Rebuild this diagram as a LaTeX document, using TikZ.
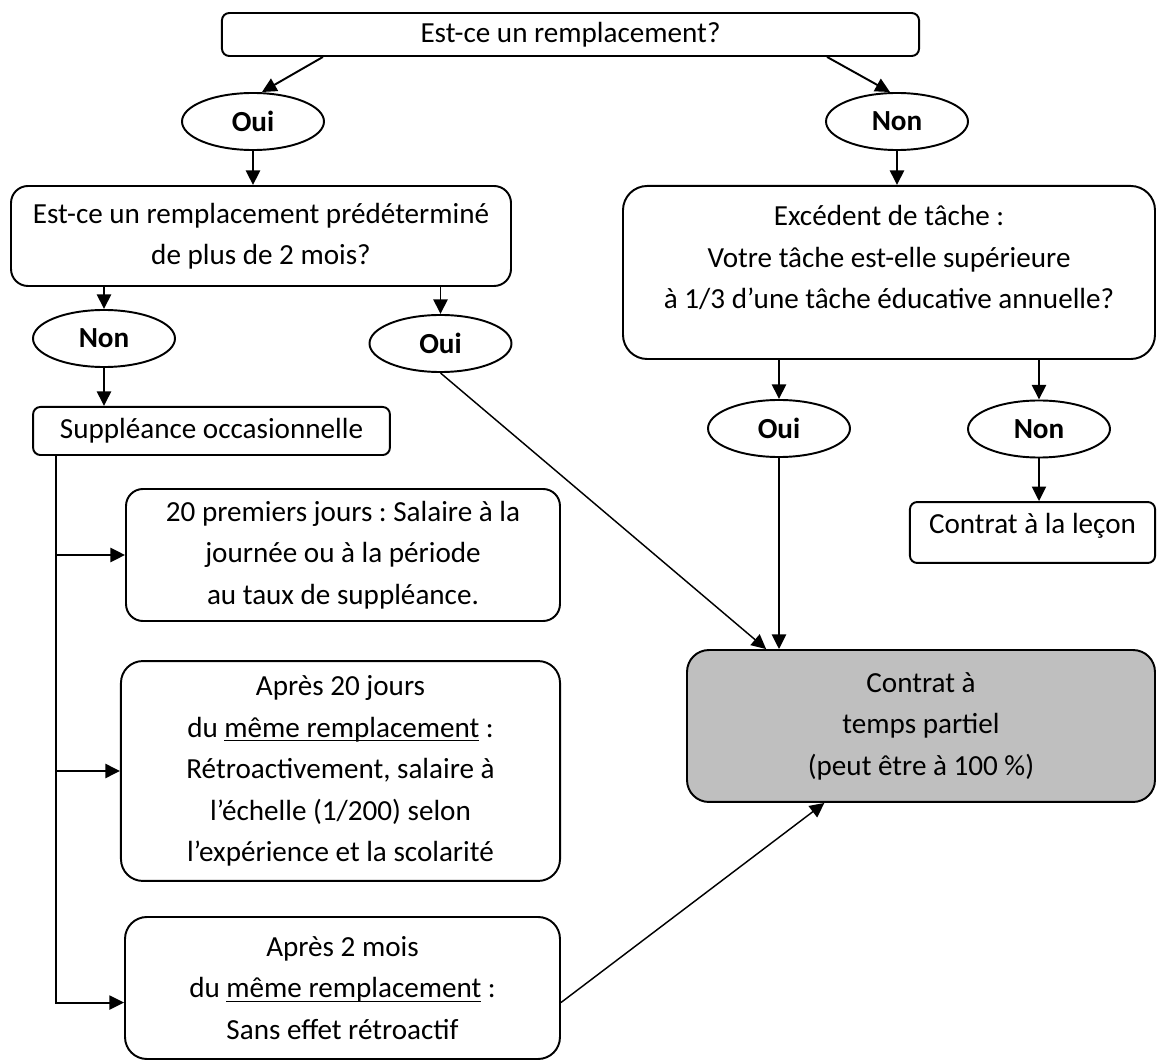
\documentclass[tikz,border=0pt]{standalone}
\usepackage{fontspec}
\setmainfont{Carlito}
\frenchspacing
\usetikzlibrary{shapes.geometric,arrows.meta}
\tikzset{
	box/.style    = {draw, rectangle, rounded corners=7pt, align=center,
		inner sep=0pt},
	result/.style = {box, fill=black!25}, % final contract
	answer/.style = {draw, ellipse, inner sep=0pt, minimum width=58.5pt,
		minimum height=23.5pt, font=\fontsize{12pt}{17.1pt}\selectfont\bfseries} % Oui / Non
}
\newcommand{\souligne}[1]{\begingroup\setbox0\hbox{#1}\rlap{\rule[-1.6pt]{\wd0}{0.5pt}}\box0\endgroup}

\begin{document}
\begin{tikzpicture}[auto, line width=0.8pt, >={Triangle[length=6pt,width=5.8pt]},
	x=0.412pt, y=-0.412pt, font=\fontsize{12pt}{17.1pt}\selectfont]
	\useasboundingbox (0,0) rectangle (1157,1061);
	\draw
	node at (570.5,34.5) [box, rounded corners=3pt, minimum width=287.2pt, minimum height=17.7pt] (q1) {Est-ce un remplacement?}
	node at (253,121.5) [answer] (oui1) {Oui}
	node at (897,121.5) [answer] (non1) {Non}
	node at (261,236) [box, minimum width=206pt, minimum height=41.2pt] (q2) {Est-ce un remplacement prédéterminé\\ de plus de 2 mois?}
	node at (889,272.5) [box, rounded corners=10pt, minimum width=219.2pt, minimum height=71.3pt] (exc) {Excédent de tâche :\\ Votre tâche est-elle supérieure\\ à 1/3 d’une tâche éducative annuelle?\\[-4.3pt] \mbox{}}
	node at (104,338.5) [answer] (non2) {Non}
	node at (440.5,343.5) [answer] (oui2) {Oui}
	node at (211.5,431) [box, rounded corners=3pt, minimum width=147pt, minimum height=19.8pt] (supp) {Suppléance occasionnelle}
	node at (779,428.5) [answer] (oui3) {Oui}
	node at (1039,429) [answer] (non3) {Non}
	node at (1032.5,532.5) [box, rounded corners=3pt, minimum width=101pt, minimum height=25.1pt] (lecon) {Contrat à la leçon\\[-9.3pt] \mbox{}}
	node at (343,555) [box, minimum width=178.8pt, minimum height=54.4pt] (first) {20 premiers jours : Salaire à la\\ journée ou à la période\\ au taux de suppléance.}
	node at (340.5,771) [box, rounded corners=9pt, minimum width=180.9pt, minimum height=90.6pt] (after20) {Après 20 jours\\ du \souligne{même remplacement} :\\ Rétroactivement, salaire à\\ l’échelle (1/200) selon\\ l’expérience et la scolarité}
	node at (342.5,988) [box, rounded corners=9pt, minimum width=179.2pt, minimum height=58.5pt] (after2m) {Après 2 mois\\ du \souligne{même remplacement} :\\ Sans effet rétroactif}
	node at (921,726) [result, rounded corners=9pt, minimum width=192.8pt, minimum height=62.6pt] (partiel) {Contrat à\\ temps partiel\\ (peut être à 100~\%)};
	
	\coordinate (trunk) at ([xshift=9.9pt]supp.south west);
	
	\draw[->] ([xshift=-102pt]q1.south) -- ([xshift=3.7pt]oui1.north);
	\draw[->] ([xshift=105.7pt]q1.south) -- ([xshift=-2.9pt]non1.north);
	\draw[->] (oui1) -- (oui1 |- q2.north);
	\draw[->] (non1) -- (non1 |- exc.north);
	\draw[->] (q2.south -| non2) -- (non2);
	\draw[->] (q2.south -| oui2) -- (oui2);
	\draw[->] (non2) -- (non2 |- supp.north);
	\draw[->] (exc.south -| oui3) -- (oui3);
	\draw[->] (exc.south -| non3) -- (non3);
	\draw[->] (non3) -- (non3 |- lecon.north);
	\draw[->] (oui3) -- (oui3 |- partiel.north);
	\draw[->, line width=0.6pt] (oui2.south) -- ([xshift=33pt]partiel.north west);
	\draw[->] (supp.south -| trunk) |- ([yshift=-6pt]after2m.west);
	\draw[->] (trunk |- first.west) -- (first.west);
	\draw[->] (trunk |- after20.west) -- (after20.west);
	\draw[->, line width=0.6pt] ([yshift=-6pt]after2m.east) -- ([xshift=57pt]partiel.south west);
	
\end{tikzpicture}
\end{document}
